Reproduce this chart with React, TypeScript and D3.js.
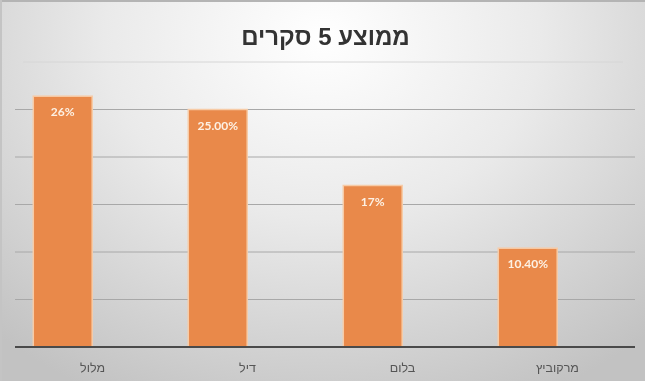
import React from "react";
import * as d3 from "d3";

const title = "ממוצע 5 סקרים";
const categories = ["מלול", "דיל", "בלום", "מרקוביץ"];
const values = [26.4, 25, 17, 10.4];
const valueLabels = ["26%", "25.00%", "17%", "10.40%"];
const gridTicks = [5, 10, 15, 20, 25, 30];

const W = 645;
const H = 381;

export default function App() {
  const x = d3.scaleBand<string>().domain(categories).range([15, 635]).padding(0);
  const y = d3.scaleLinear().domain([0, 30]).range([347, 62]);
  const step = x.step();
  const barOffset = step * 0.118;
  const barW = step * 0.38;

  return (
    <svg
      width={W}
      height={H}
      style={{ position: "fixed", left: 0, top: 0, display: "block" }}
    >
      <defs>
        <radialGradient id="bg" cx="0.5" cy="0.1" r="0.75" gradientTransform="matrix(1 0 0 1.4 0 -0.04)">
          <stop offset="0" stopColor="#ffffff" />
          <stop offset="0.45" stopColor="#eaeaea" />
          <stop offset="1" stopColor="#c2c2c2" />
        </radialGradient>
      </defs>
      <rect x={0} y={0} width={W} height={H} fill="url(#bg)" />
      <line x1={0} x2={W} y1={1} y2={1} stroke="#b4b4b4" strokeWidth={2} />
      <line x1={1} x2={1} y1={0} y2={H} stroke="#c4c4c4" strokeWidth={2} />

      <text
        x={W / 2 + 3}
        y={45}
        textAnchor="middle"
        fontFamily="'Liberation Sans', Arial, sans-serif"
        fontWeight="bold"
        fontSize={24}
        fill="#333333"
      >
        {title}
      </text>

      {gridTicks.map((t) => (
        <line
          key={t}
          x1={t === 30 ? 23 : 15}
          x2={t === 30 ? 623 : 635}
          y1={y(t)}
          y2={y(t)}
          stroke={t === 30 ? "#d6d6d6" : "#a8a8a8"}
          strokeWidth={1}
        />
      ))}

      {categories.map((c, i) => {
        const x0 = (x(c) as number) + barOffset;
        return (
          <g key={c}>
            <rect
              x={x0}
              y={y(values[i])}
              width={barW}
              height={y(0) - y(values[i])}
              fill="#E9894A"
              stroke="#F7CBA6"
              strokeWidth={1.5}
            />
            <text
              x={x0 + barW / 2}
              y={y(values[i]) + 20}
              textAnchor="middle"
              fontFamily="Lato, 'Open Sans', sans-serif"
              fontWeight="bold"
              fontSize={12}
              fill="#FDF1E4"
            >
              {valueLabels[i]}
            </text>
            <text
              x={(x(c) as number) + step / 2}
              y={372}
              textAnchor="middle"
              fontFamily="'Liberation Sans', Arial, sans-serif"
              fontSize={12.5}
              fill="#555555"
            >
              {c}
            </text>
          </g>
        );
      })}

      <line x1={15} x2={635} y1={y(0)} y2={y(0)} stroke="#4a4a4a" strokeWidth={2} />
    </svg>
  );
}
